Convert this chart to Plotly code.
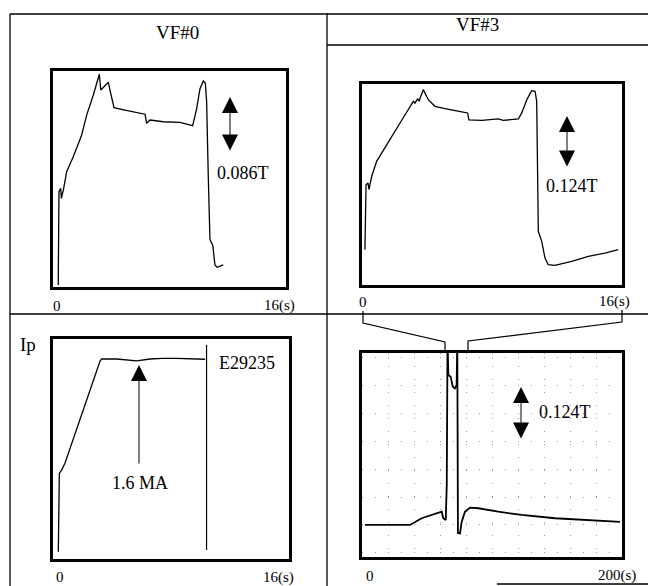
import plotly.graph_objects as go

W, H = 648, 586

# ---- data (time in s, field / current in arbitrary units, 0-100 = box height) ----
vf0_t = [0.36, 0.41, 0.53, 0.57, 0.71, 0.94, 1.39, 1.97, 2.31, 2.77, 3.18, 3.28, 3.50, 3.80,
         3.91, 4.19, 4.94, 5.86, 6.32, 6.43, 6.66, 7.57, 8.72, 9.59, 9.87, 10.09, 10.32, 10.46,
         10.55, 10.66, 10.78, 10.97, 11.12, 11.28, 11.69]
vf0_b = [0.9, 44.1, 45.7, 41.1, 44.9, 53.4, 60.3, 70.4, 79.6, 88.9, 98.5, 91.2, 92.7, 94.8,
         91.2, 83.0, 81.9, 80.7, 80.0, 75.8, 77.3, 76.5, 76.2, 74.7, 82.7, 91.7, 95.4, 94.3,
         85.8, 51.9, 21.8, 19.4, 10.2, 9.1, 10.2]

vf3_t = [0.18, 0.25, 0.37, 0.43, 0.49, 0.60, 0.90, 1.42, 2.03, 2.65, 3.16, 3.26, 3.43, 3.51,
         3.77, 4.08, 4.49, 5.11, 6.14, 6.50, 6.58, 7.37, 8.39, 8.70, 9.62, 9.83, 10.14, 10.44,
         10.65, 10.75, 10.81, 10.85, 11.06, 11.26, 11.46, 11.88, 12.90, 13.93, 14.95, 15.77]
vf3_b = [17.6, 49.9, 50.7, 47.5, 49.9, 54.1, 61.5, 68.2, 76.5, 84.7, 91.4, 90.5, 92.7, 91.4,
         97.2, 92.2, 88.9, 87.7, 86.1, 85.6, 82.2, 81.9, 82.6, 81.9, 82.6, 85.6, 92.2, 96.7,
         96.4, 91.4, 53.2, 26.7, 21.7, 13.4, 10.1, 9.8, 11.8, 14.3, 15.9, 17.6]

ip_t = [0.36, 0.43, 0.59, 0.81, 3.19, 3.30, 4.32, 5.67, 6.58, 7.40, 8.39, 9.51, 10.31]
ip_val = [3.3, 38.9, 40.5, 43.5, 90.0, 90.9, 90.9, 90.1, 90.9, 91.2, 91.2, 90.8, 90.8]
ip_end_t = [10.41, 10.41]
ip_end_v = [4.1, 97.3]

vf3_long_t = [2.3, 36.9, 45.9, 56.2, 61.3, 62.5, 64.4, 65.2, 65.8, 66.4, 68.2, 69.8, 71.5,
              72.8, 73.3, 73.8, 75.4, 76.7, 79.2, 83.1, 89.5, 104.8, 122.8, 148.5, 174.1, 198.5]
vf3_long_b = [15.7, 15.7, 19.0, 21.4, 22.2, 19.0, 18.1, 35.3, 106.4, 89.2, 88.4, 83.5, 82.7,
              84.3, 106.4, 11.8, 11.6, 17.3, 22.2, 24.2, 23.9, 22.2, 20.6, 19.0, 17.9, 17.2]

short_ticks = ["0", "16(s)"]
long_ticks = ["0", "200(s)"]

FONT = "Liberation Serif, Times New Roman, serif"


def px(x):
    return x / W


def py(y):
    return 1 - y / H


fig = go.Figure()
line_style = dict(color="black", width=1.3)
fig.add_trace(go.Scatter(x=vf0_t, y=vf0_b, mode="lines", line=line_style, xaxis="x", yaxis="y"))
fig.add_trace(go.Scatter(x=vf3_t, y=vf3_b, mode="lines", line=line_style, xaxis="x2", yaxis="y2"))
fig.add_trace(go.Scatter(x=ip_t, y=ip_val, mode="lines", line=line_style, xaxis="x3", yaxis="y3"))
fig.add_trace(go.Scatter(x=ip_end_t, y=ip_end_v, mode="lines", line=dict(color="black", width=1.2),
                         xaxis="x3", yaxis="y3"))
fig.add_trace(go.Scatter(x=vf3_long_t, y=vf3_long_b, mode="lines",
                         line=dict(color="black", width=1.8), xaxis="x4", yaxis="y4"))

ax_common = dict(showline=True, linecolor="black", linewidth=3, mirror=True, showgrid=False,
                 zeroline=False, showticklabels=False, ticks="", fixedrange=True)
grid_style = dict(showgrid=True, gridcolor="#9a9a9a", griddash="1px,12px", gridwidth=1)
ax_grid = {**ax_common, **grid_style}

fig.update_layout(
    width=W, height=H, margin=dict(l=0, r=0, t=0, b=0),
    paper_bgcolor="white", plot_bgcolor="white", showlegend=False,
    xaxis=dict(domain=[px(53), px(286)], range=[0, 16], anchor="y", **ax_common),
    yaxis=dict(domain=[py(287), py(71)], range=[0, 100], anchor="x", **ax_common),
    xaxis2=dict(domain=[px(362), px(622)], range=[0, 16], anchor="y2", **ax_common),
    yaxis2=dict(domain=[py(285), py(84)], range=[0, 100], anchor="x2", **ax_common),
    xaxis3=dict(domain=[px(53), px(289)], range=[0, 16], anchor="y3", **ax_common),
    yaxis3=dict(domain=[py(559), py(339)], range=[0, 100], anchor="x3", **ax_common),
    xaxis4=dict(domain=[px(362), px(622)], range=[0, 200], anchor="y4", tick0=0, dtick=20,
                **ax_grid),
    yaxis4=dict(domain=[py(557), py(353)], range=[0, 100], anchor="x4", tick0=15.7, dtick=13.7,
                **ax_grid),
)

# frame lines
frame = [
    (10, 14, 648, 14), (10, 14, 10, 586), (327, 13, 327, 586),
    (327, 45, 648, 45), (10, 314, 648, 314), (497, 584, 648, 584),
]
shapes = []
for x0, y0, x1, y1 in frame:
    shapes.append(dict(type="line", xref="paper", yref="paper", x0=px(x0), y0=py(y0),
                       x1=px(x1), y1=py(y1), line=dict(color="black", width=1.3)))
# zoom connectors
for pts in ([(363, 311), (363, 323), (445, 342), (445, 353)],
            [(622, 310), (622, 322), (468, 341), (468, 352)]):
    path = "M " + " L ".join(f"{px(a):.5f},{py(b):.5f}" for a, b in pts)
    shapes.append(dict(type="path", xref="paper", yref="paper", path=path,
                       line=dict(color="black", width=1.2)))
fig.update_layout(shapes=shapes)

ann = []


def text(t, x, y, size=18, **kw):
    ann.append(dict(text=t, xref="paper", yref="paper", x=px(x), y=py(y), showarrow=False,
                    xanchor="center", yanchor="middle",
                    font=dict(family=FONT, size=size, color="black"), **kw))


text("VF#0", 177, 32, 19)
text("VF#3", 477, 25, 19)
text("Ip", 28, 344, 19)
text("0.086T", 243, 173)
text("0.124T", 572, 186)
text("0.124T", 565, 412)
text("1.6 MA", 140, 483)
text("E29235", 247, 363)

# axis end labels
text(short_ticks[0], 57, 306, 15)
text(short_ticks[1], 279, 305, 15)
text(short_ticks[0], 363, 302, 15)
text(short_ticks[1], 614, 301, 15)
text(short_ticks[0], 60, 577, 15)
text(short_ticks[1], 278, 577, 15)
text(long_ticks[0], 370, 576, 15)
text(long_ticks[1], 617, 575, 15)


def arrow(x, ytip, ytail, both=True):
    d = dict(text="", xref="paper", yref="paper", x=px(x), y=py(ytip), axref="pixel",
             ayref="pixel", ax=0, ay=ytail - ytip, showarrow=True, arrowhead=2,
             arrowsize=3.2, arrowwidth=1, arrowcolor="black", standoff=0)
    if both:
        d.update(arrowside="end+start", startarrowhead=2, startarrowsize=3.2, startstandoff=0)
    ann.append(d)


arrow(230, 97, 152)
arrow(567, 116, 168)
arrow(521, 387, 440)
arrow(139, 365, 465, both=False)

fig.update_layout(annotations=ann)
fig.write_html("out.html")
